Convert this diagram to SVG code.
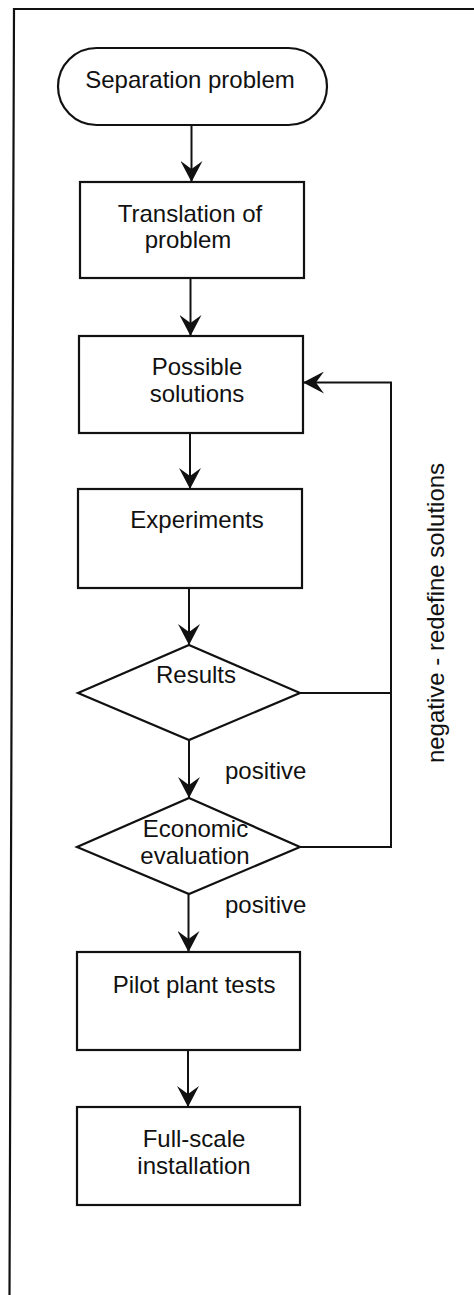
<svg xmlns="http://www.w3.org/2000/svg" width="474" height="1295" viewBox="0 0 474 1295">
<style>
.n{fill:none;stroke:#111;stroke-width:2.2}
.c{fill:none;stroke:#111;stroke-width:2}
.t{font-family:"Liberation Sans",Arial,sans-serif;font-size:24px;fill:#111;text-anchor:middle}
.l{font-family:"Liberation Sans",Arial,sans-serif;font-size:24px;fill:#111}
</style>
<defs>
<marker id="ah" viewBox="0 0 21 22" markerWidth="21" markerHeight="22" refX="21" refY="11" orient="auto" markerUnits="userSpaceOnUse">
<path d="M21 11 L0 0 L8 11 L0 22 Z" fill="#111"/>
</marker>
</defs>
<rect width="474" height="1295" fill="#fff"/>
<g id="frame"><path class="n" d="M9.5 1295 L14 9 L474 9"/></g>
<g id="start"><rect class="n" x="58" y="48" width="269" height="77" rx="38.5"/><text class="t" x="190" y="88">Separation problem</text></g>
<g id="translation"><rect class="n" x="80" y="182" width="224" height="96"/><text class="t" x="190" y="222">Translation of</text><text class="t" x="188" y="248">problem</text></g>
<g id="solutions"><rect class="n" x="79" y="336" width="224" height="97"/><text class="t" x="197" y="375">Possible</text><text class="t" x="197" y="402">solutions</text></g>
<g id="experiments"><rect class="n" x="78" y="489" width="224" height="99"/><text class="t" x="197" y="528">Experiments</text></g>
<g id="results"><polygon class="n" points="189,645 300,693 189,740 78,693"/><text class="t" x="196" y="683">Results</text></g>
<g id="economic"><polygon class="n" points="189,798 300,847 189,894 77,847"/><text class="t" x="195.5" y="837">Economic</text><text class="t" x="195" y="864">evaluation</text></g>
<g id="pilot"><rect class="n" x="77" y="952" width="223" height="98"/><text class="t" x="194" y="993">Pilot plant tests</text></g>
<g id="fullscale"><rect class="n" x="77" y="1107" width="223" height="98"/><text class="t" x="194" y="1147">Full-scale</text><text class="t" x="194" y="1174">installation</text></g>
<g id="connectors">
<path class="c" d="M191.5 125 V182" marker-end="url(#ah)"/>
<path class="c" d="M190.5 278 V336" marker-end="url(#ah)"/>
<path class="c" d="M190 433 V489" marker-end="url(#ah)"/>
<path class="c" d="M189 588 V645" marker-end="url(#ah)"/>
<path class="c" d="M189 740 V798" marker-end="url(#ah)"/>
<path class="c" d="M188.5 894 V952" marker-end="url(#ah)"/>
<path class="c" d="M188 1050 V1107" marker-end="url(#ah)"/>
<path class="c" d="M300 693 H391"/>
<path class="c" d="M300 847 H391 V382.5 H303" marker-end="url(#ah)"/>
<text class="l" x="225" y="779">positive</text>
<text class="l" x="225" y="913">positive</text>
<text class="t" transform="translate(444 613) rotate(-90)">negative - redefine solutions</text>
</g>
</svg>
